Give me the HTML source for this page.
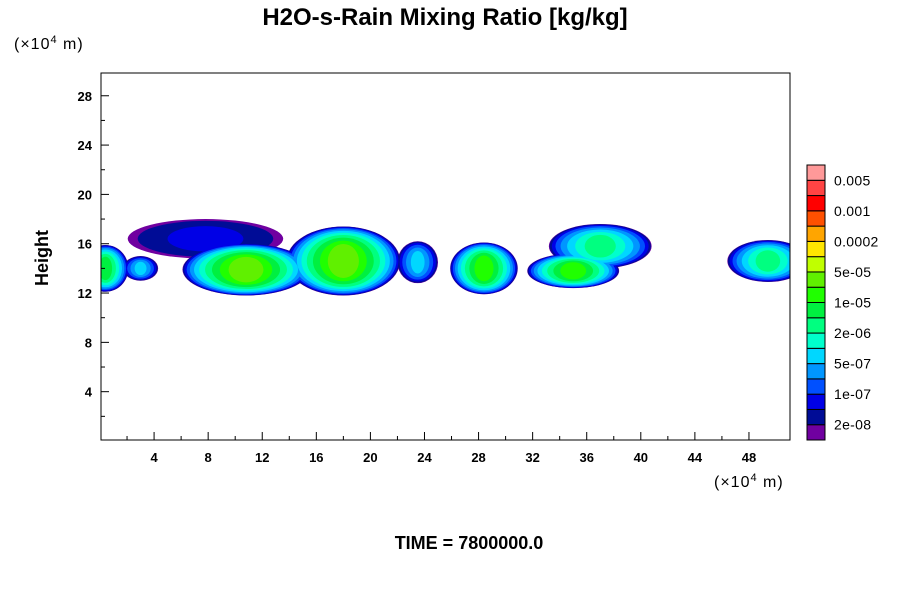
<!DOCTYPE html>
<html><head><meta charset="utf-8"><style>
body{margin:0;background:#fff;}
svg{display:block;font-family:"Liberation Sans",Arial,sans-serif;}
</style></head><body>
<svg id="c" width="900" height="600" viewBox="0 0 900 600">
<defs><clipPath id="pc"><rect x="101" y="73" width="689" height="367"/></clipPath></defs>
<text x="445" y="25" text-anchor="middle" font-size="24" font-weight="bold">H2O-s-Rain Mixing Ratio [kg/kg]</text>
<text x="14" y="49" font-size="16" letter-spacing="1">(×10<tspan dy="-6" font-size="11">4</tspan><tspan dy="6"> m)</tspan></text>
<text x="714" y="487" font-size="16" letter-spacing="1">(×10<tspan dy="-6" font-size="11">4</tspan><tspan dy="6"> m)</tspan></text>
<text x="48" y="258" font-size="18" font-weight="bold" text-anchor="middle" transform="rotate(-90 48 258)">Height</text>
<text x="469" y="549" font-size="18" font-weight="bold" text-anchor="middle">TIME = 7800000.0</text>
<g id="blobs" clip-path="url(#pc)"></g>
<rect x="101" y="73" width="689" height="367" fill="none" stroke="#000" stroke-width="1"/>
<g id="axes"></g>
<g id="cbar"></g>
</svg>
<script>
const xTicks=[4,8,12,16,20,24,28,32,36,40,44,48];
const yTicks=[4,8,12,16,20,24,28];
const cbarLabels=["2e-08","1e-07","5e-07","2e-06","1e-05","5e-05","0.0002","0.001","0.005"];
const levelColors=["#7000a0","#000c96","#0000e6","#0050ff","#0096ff","#00d7ff","#00ffcc","#00ff80","#00f040","#20ff00","#60f000","#c0ff00","#ffe600","#ffa500","#ff5000","#ff0000","#ff4444","#ff9999"];
// blobs: center x, center z, width, height (units 1e4 m), peak level
const blobX=[0.4,3.0,7.8,10.8,18.0,23.5,28.4,37.0,35.0,49.4];
const blobZ=[14.0,14.0,16.4,13.9,14.6,14.5,14.0,15.8,13.8,14.6];
const blobW=[3.4,2.6,11.5,9.4,8.4,3.0,5.0,7.6,6.8,6.0];
const blobH=[3.8,2.0,3.2,4.2,5.6,3.4,4.2,3.6,2.8,3.4];
const blobPeak=[8,5,2,10,10,5,9,7,9,7];
const X=v=>100+v*13.52, Y=v=>441-v*12.33;
const NS="http://www.w3.org/2000/svg";
function mk(t,a,p){const e=document.createElementNS(NS,t);for(const k in a)e.setAttribute(k,a[k]);p.appendChild(e);return e;}
const gb=document.getElementById('blobs');
for(let lv=0;lv<=10;lv++){
  blobX.forEach((bx,i)=>{
    const pk=blobPeak[i]; if(lv>pk)return;
    const r=lv/(pk+0.5);
    const f=1-0.8*r*r;
    const rx=blobW[i]/2*13.52*f, ry=blobH[i]/2*12.33*(0.3+0.7*f);
    const e=mk('ellipse',{cx:X(bx),cy:Y(blobZ[i]),rx:rx,ry:ry,fill:levelColors[lv]},gb);
    
    
  });
}
const ga=document.getElementById('axes');
xTicks.forEach(v=>{
  mk('line',{x1:X(v),x2:X(v),y1:440,y2:432,stroke:'#000'},ga);
  const t=mk('text',{x:X(v),y:462,'font-size':13,'font-weight':'bold','text-anchor':'middle'},ga);t.textContent=v;
  
  
  mk('line',{x1:X(v-2),x2:X(v-2),y1:440,y2:436,stroke:'#000'},ga);
});
yTicks.forEach(v=>{
  mk('line',{x1:101,x2:109,y1:Y(v),y2:Y(v),stroke:'#000'},ga);
  mk('line',{x1:101,x2:105,y1:Y(v-2),y2:Y(v-2),stroke:'#000'},ga);
  const t=mk('text',{x:92,y:Y(v)+5,'font-size':13,'font-weight':'bold','text-anchor':'end'},ga);t.textContent=v;
  
  
});
const gc=document.getElementById('cbar');
const nLv=levelColors.length, cbTop=165, cbBot=440, cbH=(cbBot-cbTop)/nLv;
levelColors.forEach((c,i)=>{
  const r=mk('rect',{x:807,y:cbBot-(i+1)*cbH,width:18,height:cbH,fill:c,stroke:'#000','stroke-width':1},gc);
  
  
});
cbarLabels.forEach((l,j)=>{
  const t=mk('text',{x:834,y:cbBot-(2*j+1)*cbH+5,'font-size':14,'letter-spacing':'0.3'},gc);t.textContent=l;
  
  
});
</script>
</body></html>
